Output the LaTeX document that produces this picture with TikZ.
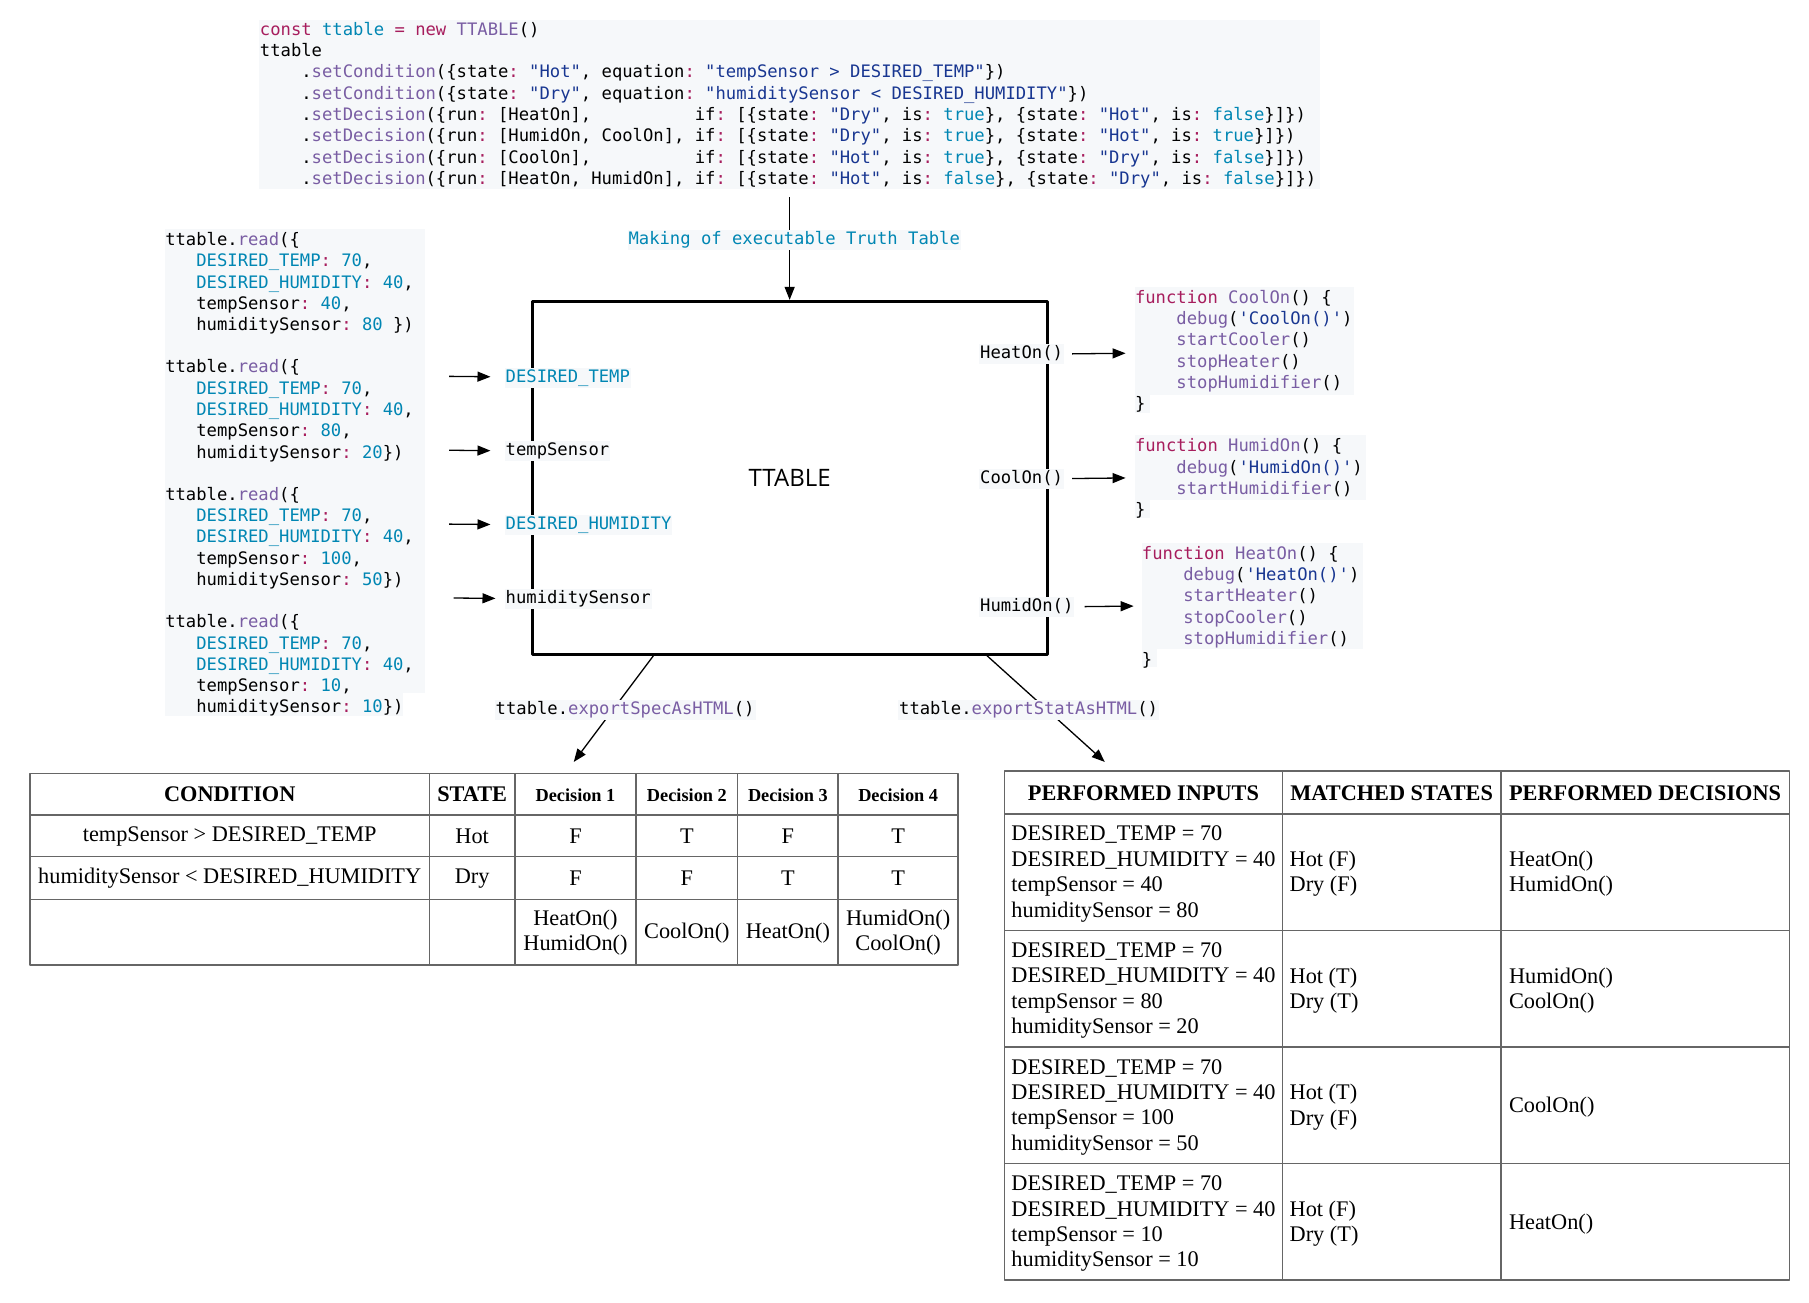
\documentclass[tikz,border=0pt]{standalone}
\usepackage{fontspec}
\setmainfont{Liberation Serif}
\newfontfamily\codefont{DejaVu Sans Mono}
\newfontfamily\boxfont{Open Sans}
\usetikzlibrary{arrows.meta}
\definecolor{ghkey}{HTML}{A71D5D}
\definecolor{ghfun}{HTML}{795DA3}
\definecolor{ghcon}{HTML}{0086B3}
\definecolor{ghstr}{HTML}{183691}
\definecolor{codebg}{HTML}{F6F8FA}
\newcommand\ckw[1]{\textcolor{ghkey}{#1}}
\newcommand\cfn[1]{\textcolor{ghfun}{#1}}
\newcommand\ccn[1]{\textcolor{ghcon}{#1}}
\newcommand\cst[1]{\textcolor{ghstr}{#1}}
\newcommand\codesize{\fontsize{17.2pt}{21.3pt}\selectfont}
\newcommand\tabsize{\fontsize{22.3pt}{25.4pt}\selectfont}
\newcommand\decsize{\fontsize{18.3pt}{21pt}\selectfont}
\begin{document}
\frenchspacing
\begin{tikzpicture}[x=1.1544pt, y=-1.1544pt, line join=round,
  codetext/.style={font=\codefont\codesize, align=left, anchor=north west, inner sep=0pt},
  iolabel/.style={font=\codefont\codesize, fill=codebg, inner xsep=1pt, inner ysep=0pt,
    text height=13pt, text depth=4pt, minimum height=20pt, anchor=west},
  flowarrow/.style={line width=1.3pt, -{Triangle[length=13pt,width=10pt]}},
  tabline/.style={line width=1.6pt, draw=black!60},
  th/.style={font=\bfseries\tabsize, inner sep=0pt},
  td/.style={font=\tabsize, align=center, inner sep=0pt}]
\useasboundingbox (0,0) rectangle (1567,1127.9);

% code backgrounds
\fill[codebg] (224,17) rectangle (1143,164);
\fill[codebg] (143,198) rectangle (368,600);
\fill[codebg] (143,600) rectangle (349,620);
\fill[codebg] (983,249) rectangle (1173,342);
\fill[codebg] (983,342) rectangle (996,358);
\fill[codebg] (983,377) rectangle (1183,433);
\fill[codebg] (983,433) rectangle (996,449);
\fill[codebg] (989,470) rectangle (1181,562);
\fill[codebg] (989,562) rectangle (1002,578);

% truth table definition
\node[codetext] (setup) at (225,19) {\ckw{const} \ccn{ttable} \ckw{=} \ckw{new} \cfn{TTABLE}()\\
ttable\\
~~~~.\cfn{setCondition}(\{state\ckw{:} \cst{"Hot"}, equation\ckw{:} \cst{"tempSensor > DESIRED\_TEMP"}\})\\
~~~~.\cfn{setCondition}(\{state\ckw{:} \cst{"Dry"}, equation\ckw{:} \cst{"humiditySensor < DESIRED\_HUMIDITY"}\})\\
~~~~.\cfn{setDecision}(\{run\ckw{:} [HeatOn],~~~~~~~~~~if\ckw{:} [\{state\ckw{:} \cst{"Dry"}, is\ckw{:} \ccn{true}\}, \{state\ckw{:} \cst{"Hot"}, is\ckw{:} \ccn{false}\}]\})\\
~~~~.\cfn{setDecision}(\{run\ckw{:} [HumidOn, CoolOn], if\ckw{:} [\{state\ckw{:} \cst{"Dry"}, is\ckw{:} \ccn{true}\}, \{state\ckw{:} \cst{"Hot"}, is\ckw{:} \ccn{true}\}]\})\\
~~~~.\cfn{setDecision}(\{run\ckw{:} [CoolOn],~~~~~~~~~~if\ckw{:} [\{state\ckw{:} \cst{"Hot"}, is\ckw{:} \ccn{true}\}, \{state\ckw{:} \cst{"Dry"}, is\ckw{:} \ccn{false}\}]\})\\
~~~~.\cfn{setDecision}(\{run\ckw{:} [HeatOn, HumidOn], if\ckw{:} [\{state\ckw{:} \cst{"Hot"}, is\ckw{:} \ccn{false}\}, \{state\ckw{:} \cst{"Dry"}, is\ckw{:} \ccn{false}\}]\})};

% reads
\foreach \ts/\hs/\e [count=\k from 0] in {40/80/{~},80/20/{},100/50/{},10/10/{}}
  \node[codetext] (rd\k) at (143,201+110.4*\k) {ttable.\cfn{read}(\{\\
  ~~~\ccn{DESIRED\_TEMP}\ckw{:} \ccn{70},\\
  ~~~\ccn{DESIRED\_HUMIDITY}\ckw{:} \ccn{40},\\
  ~~~tempSensor\ckw{:} \ccn{\ts},\\
  ~~~humiditySensor\ckw{:} \ccn{\hs}\e\})};

% actions
\node[codetext] (fcool) at (983,251) {\ckw{function} \cfn{CoolOn}() \{\\
~~~~\cfn{debug}(\cst{'CoolOn()'})\\
~~~~\cfn{startCooler}()\\
~~~~\cfn{stopHeater}()\\
~~~~\cfn{stopHumidifier}()\\
\}};
\node[codetext] (fhumid) at (983,380) {\ckw{function} \cfn{HumidOn}() \{\\
~~~~\cfn{debug}(\cst{'HumidOn()'})\\
~~~~\cfn{startHumidifier}()\\
\}};
\node[codetext] (fheat) at (989,473) {\ckw{function} \cfn{HeatOn}() \{\\
~~~~\cfn{debug}(\cst{'HeatOn()'})\\
~~~~\cfn{startHeater}()\\
~~~~\cfn{stopCooler}()\\
~~~~\cfn{stopHumidifier}()\\
\}};

% the TTABLE box
\node[draw, line width=3pt, minimum width=514.9pt, minimum height=353.2pt,
  font=\boxfont\fontsize{24pt}{28pt}\selectfont] (tt) at (684,414) {TTABLE};
\node[iolabel] (dt) at (437,327) {\ccn{DESIRED\_TEMP}};
\node[iolabel] (ts) at (437,391) {tempSensor};
\node[iolabel] (dh) at (437,455) {\ccn{DESIRED\_HUMIDITY}};
\node[iolabel] (hs) at (437,519) {humiditySensor};
\node[iolabel] (ho) at (848,307) {HeatOn()};
\node[iolabel] (co) at (848,415) {CoolOn()};
\node[iolabel] (hu) at (848,526) {HumidOn()};

\coordinate (topend) at (684,171);
\coordinate (in1) at (389,326);
\coordinate (in2) at (389,390);
\coordinate (in3) at (389,454);
\coordinate (in4) at (393,518);
\coordinate (out1) at (975,306);
\coordinate (out2) at (975,414);
\coordinate (out3) at (982,525);
\coordinate (spec1) at (566,568);
\coordinate (spec2) at (497,660);
\coordinate (stat1) at (855,568);
\coordinate (stat2) at (957,660);

\draw[flowarrow] (topend) -- (tt.north);
\draw[flowarrow, shorten >=14pt] (in1) -- (dt);
\draw[flowarrow, shorten >=14pt] (in2) -- (ts);
\draw[flowarrow, shorten >=14pt] (in3) -- (dh);
\draw[flowarrow, shorten >=9pt] (in4) -- (hs);
\draw[flowarrow, shorten <=8pt] (ho) -- (out1);
\draw[flowarrow, shorten <=8pt] (co) -- (out2);
\draw[flowarrow, shorten <=10pt] (hu) -- (out3);
\draw[flowarrow] (spec1) -- (spec2);
\draw[flowarrow] (stat1) -- (stat2);

\node[iolabel, anchor=center] (mk) at (688,208) {\ccn{Making of executable Truth Table}};
\node[iolabel, anchor=center] (spec) at (541.5,615) {ttable.\cfn{exportSpecAsHTML}()};
\node[iolabel, anchor=center] (stat) at (891,615) {ttable.\cfn{exportStatAsHTML}()};

% spec table
\draw[tabline] (26,670) rectangle (830,836);
\foreach \x in {372,446,551,639,726} \draw[tabline] (\x,670) -- (\x,836);
\foreach \y in {706,742,779} \draw[tabline] (26,\y) -- (830,\y);
\node[th] (sh1) at (199,688) {CONDITION};
\node[th] (sh2) at (409,688) {STATE};
\foreach \x [count=\d] in {498.5,595,682.5,778}
  \node[th, font=\bfseries\decsize] (sd\d) at (\x,688.5) {Decision \d};
\node[td] (sc1) at (199,724.5) {tempSensor > DESIRED\_TEMP};
\node[td] (ss1) at (409,724.5) {Hot};
\node[td] (sc2) at (199,761) {humiditySensor < DESIRED\_HUMIDITY};
\node[td] (ss2) at (409,761) {Dry};
\foreach \x/\a/\b [count=\d] in {498.5/F/F,595/T/F,682.5/F/T,778/T/T} {
  \node[td] (sa\d) at (\x,724.5) {\a};
  \node[td] (sb\d) at (\x,761) {\b};
}
\foreach \x/\r [count=\d] in {498.5/{HeatOn()\\HumidOn()},595/CoolOn(),682.5/HeatOn(),778/{HumidOn()\\CoolOn()}}
  \node[td] (sr\d) at (\x,808) {\r};

% stat table
\draw[tabline] (870,668) rectangle (1550,1109);
\foreach \x in {1111,1300} \draw[tabline] (\x,668) -- (\x,1109);
\foreach \y in {705,806,907,1008} \draw[tabline] (870,\y) -- (1550,\y);
\node[th] (ph1) at (990.5,687) {PERFORMED INPUTS};
\node[th] (ph2) at (1205.5,687) {MATCHED STATES};
\node[th] (ph3) at (1425,687) {PERFORMED DECISIONS};
\foreach \y/\ts/\hs/\hot/\dry/\dec [count=\r] in {757/40/80/F/F/{HeatOn()\\HumidOn()},858/80/20/T/T/{HumidOn()\\CoolOn()},959/100/50/T/F/CoolOn(),1060/10/10/F/T/HeatOn()} {
  \node[td, align=left, anchor=west] (pi\r) at (876,\y) {DESIRED\_TEMP = 70\\DESIRED\_HUMIDITY = 40\\tempSensor = \ts\\humiditySensor = \hs};
  \node[td, align=left, anchor=west] (pm\r) at (1117,\y) {Hot (\hot)\\Dry (\dry)};
  \node[td, align=left, anchor=west] (pd\r) at (1307,\y) {\dec};
}
\end{tikzpicture}
\end{document}
